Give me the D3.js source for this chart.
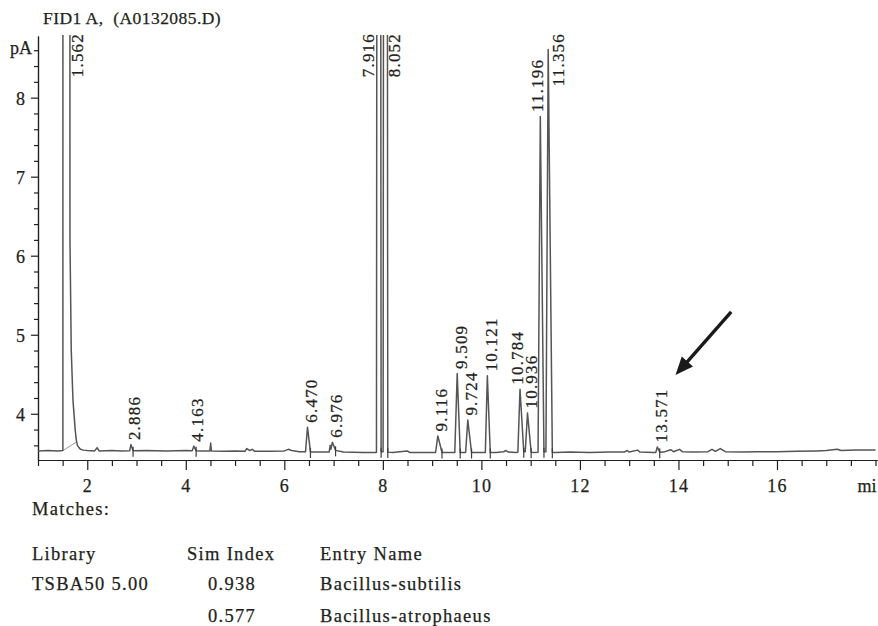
<!DOCTYPE html>
<html>
<head>
<meta charset="utf-8">
<script src="https://cdn.jsdelivr.net/npm/d3@7"></script>
<style>
  html, body { margin: 0; padding: 0; background: #ffffff; }
  svg { display: block; }
  text { font-family: "Liberation Serif", "Times New Roman", serif; fill: #231f20; stroke: #231f20; stroke-width: 0.25px; }
</style>
</head>
<body>
<svg id="chart" width="878" height="626"></svg>
<script>
// ---- FID1 A trace (signal in pA against retention time in min) ----

// Integrated peaks: retention time printed above each peak
const retentionTimes = [1.562, 2.886, 4.163, 6.470, 6.976, 7.916, 8.052, 9.116, 9.509, 9.724, 10.121, 10.784, 10.936, 11.196, 11.356, 13.571];
// Apex signal (pA); the solvent peak and the 7.9/8.0 pair run far off scale
const peakHeights = [300, 3.61, 3.59, 3.83, 3.64, 40, 40, 3.72, 4.51, 3.92, 4.48, 4.31, 4.01, 7.76, 8.61, 3.58];
const peakStarts = [1.505, 2.86, 4.13, 6.43, 6.945, 7.87, 8.005, 9.07, 9.46, 9.68, 10.08, 10.74, 10.89, 11.15, 11.31, 13.54];
const peakEnds = [1.649, 2.93, 4.21, 6.53, 7.04, 7.965, 8.10, 9.20, 9.57, 9.80, 10.18, 10.86, 11.01, 11.27, 11.44, 13.62];

// Signal between the integrated peaks [min, pA], including the solvent tail
const baselineSignal = [
  [1.0, 3.53], [1.2, 3.535], [1.4, 3.53], [1.505, 3.535],
  [1.649, 6.2], [1.675, 4.8], [1.71, 4.17], [1.756, 3.79], [1.777, 3.67], [1.80, 3.6],
  [1.823, 3.58], [1.86, 3.55], [1.925, 3.54], [2.0, 3.535], [2.15, 3.53], [2.2, 3.57],
  [2.24, 3.53], [2.5, 3.535], [2.7, 3.53], [3.2, 3.535], [3.6, 3.53], [4.0, 3.535],
  [4.3, 3.53], [4.49, 3.53], [4.505, 3.63], [4.52, 3.53], [4.8, 3.525], [5.0, 3.53],
  [5.2, 3.525], [5.24, 3.56], [5.3, 3.535], [5.35, 3.55], [5.4, 3.525], [5.7, 3.525],
  [6.0, 3.53], [6.08, 3.55], [6.15, 3.535], [6.3, 3.52], [6.7, 3.515], [6.91, 3.515],
  [6.93, 3.6], [6.945, 3.55], [7.2, 3.515], [7.6, 3.51], [7.85, 3.51], [7.985, 3.52],
  [8.2, 3.51], [8.49, 3.53], [8.55, 3.51], [8.8, 3.51], [9.0, 3.51], [9.3, 3.51],
  [9.45, 3.51], [9.62, 3.51], [9.85, 3.51], [10.0, 3.51], [10.3, 3.51], [10.45, 3.52],
  [10.5, 3.535], [10.55, 3.515], [10.7, 3.51], [10.875, 3.52], [11.08, 3.51], [11.29, 3.52],
  [11.5, 3.51], [11.8, 3.515], [12.2, 3.51], [12.6, 3.515], [12.9, 3.515], [12.96, 3.535],
  [13.0, 3.515], [13.17, 3.54], [13.22, 3.515], [13.5, 3.51], [13.7, 3.515], [13.84, 3.545],
  [13.9, 3.52], [14.02, 3.55], [14.08, 3.52], [14.3, 3.515], [14.6, 3.52], [14.68, 3.55],
  [14.75, 3.525], [14.85, 3.56], [14.95, 3.52], [15.3, 3.515], [15.6, 3.52], [16.0, 3.52],
  [16.4, 3.525], [16.8, 3.53], [17.0, 3.535], [17.22, 3.55], [17.3, 3.535], [17.6, 3.54],
  [18.0, 3.54]
];

// Integration baseline drawn under the solvent peak
const solventBaseline = [[1.505, 3.535], [1.777, 3.64]];

// Axis ticks
const xTickValues = [2, 4, 6, 8, 10, 12, 14, 16];
const yTickValues = [4, 5, 6, 7, 8];

// Library search results
const tableHeaders = ["Library", "Sim Index", "Entry Name"];
const libraryNames = ["TSBA50 5.00", ""];
const simIndexValues = ["0.938", "0.577"];
const entryNames = ["Bacillus-subtilis", "Bacillus-atrophaeus"];

// Arrow pointing at the 13.571 peak [min, pA]
const arrowTail = [15.07, 5.29];
const arrowTip = [13.94, 4.49];

// ---- layout ----
const svg = d3.select("#chart");
const ink = "#231f20";
const serif = "'Liberation Serif', 'Times New Roman', serif";

const x = d3.scaleLinear().domain([1.0, 18.03]).range([38, 877]);
const y = d3.scaleLinear().domain([3.415, 8.78]).range([460, 36]);

// Title
svg.append("text")
  .attr("x", 43).attr("y", 23.5)
  .style("font-size", "17.5px").style("letter-spacing", "0.45px")
  .attr("xml:space", "preserve")
  .text("FID1 A,  (A0132085.D)");

// ---- axes ----
const xMinor = d3.range(1, 18.01, 0.5).filter(v => !xTickValues.includes(v));
const yMinor = d3.range(3.6, 8.61, 0.2).map(v => +v.toFixed(1)).filter(v => !yTickValues.includes(v));

function styleAxis(g) {
  g.attr("font-family", serif);
  g.selectAll("path, line").attr("stroke", ink).attr("stroke-width", 1.2);
}

svg.append("g").attr("transform", "translate(0,460)")
  .call(d3.axisBottom(x).tickValues(xMinor).tickSize(6).tickSizeOuter(0).tickFormat(""))
  .call(styleAxis);

const xAxis = svg.append("g").attr("transform", "translate(0,460)")
  .call(d3.axisBottom(x).tickValues(xTickValues).tickSize(10).tickSizeOuter(0).tickFormat(d3.format("d")))
  .call(styleAxis);
xAxis.selectAll("text")
  .attr("y", 31.5).attr("dy", null)
  .attr("fill", ink)
  .style("font-family", serif)
  .style("font-size", "18px").style("letter-spacing", "1.2px");

svg.append("g").attr("transform", "translate(38,0)")
  .call(d3.axisLeft(y).tickValues(yMinor).tickSize(4).tickSizeOuter(0).tickFormat(""))
  .call(styleAxis);

const yAxis = svg.append("g").attr("transform", "translate(38,0)")
  .call(d3.axisLeft(y).tickValues(yTickValues).tickSize(7).tickSizeOuter(0).tickFormat(d3.format("d")))
  .call(styleAxis);
yAxis.selectAll("text")
  .attr("x", -13).attr("dy", "0.38em")
  .attr("fill", ink)
  .style("font-family", serif)
  .style("font-size", "18px");

// Unit labels
svg.append("text").attr("x", 32).attr("y", 53.5).attr("text-anchor", "end")
  .style("font-size", "18px").text("pA");
svg.append("text").attr("x", 857.5).attr("y", 491.5)
  .style("font-size", "18px").text("mi");

// ---- trace ----
svg.append("clipPath").attr("id", "plot-clip")
  .append("rect").attr("x", 38).attr("y", 35).attr("width", 842).attr("height", 425);

const baseAt = d3.scaleLinear()
  .domain(baselineSignal.map(d => d[0]))
  .range(baselineSignal.map(d => d[1]));

const peaks = retentionTimes.map((rt, i) => ({
  rt, height: peakHeights[i], start: peakStarts[i], end: peakEnds[i], label: rt.toFixed(3)
}));

const tracePoints = baselineSignal.filter(([t]) => !peaks.some(p => t >= p.start && t <= p.end));
peaks.forEach(p => {
  tracePoints.push([p.start, baseAt(p.start)], [p.rt, p.height], [p.end, baseAt(p.end)]);
});
tracePoints.sort((a, b) => a[0] - b[0]);

const line = d3.line().x(d => x(d[0])).y(d => y(d[1]));
const plot = svg.append("g").attr("clip-path", "url(#plot-clip)");

plot.append("path")
  .datum(solventBaseline)
  .attr("d", line)
  .attr("fill", "none").attr("stroke", "#9a9a9a").attr("stroke-width", 1);

plot.append("path")
  .datum(tracePoints)
  .attr("d", line)
  .attr("fill", "none").attr("stroke", "#555555").attr("stroke-width", 1.5)
  .attr("stroke-linejoin", "round");

// Peak end markers
plot.selectAll("line.marker")
  .data(peaks.slice(1))
  .join("line").attr("class", "marker")
  .attr("x1", p => x(p.end)).attr("x2", p => x(p.end))
  .attr("y1", p => y(baseAt(p.end)) - 4).attr("y2", p => y(baseAt(p.end)) + 6)
  .attr("stroke", "#3c3c3c").attr("stroke-width", 1.2);

// ---- retention-time labels ----
// Horizontal shift for labels set beside crowded or off-scale peaks
const labelNudge = { "1.562": 8.3, "7.916": -14.7, "8.052": 5.2, "10.784": -7, "11.196": -7.2, "11.356": 6.4 };
const capHeight = 11.5;

peaks.forEach(p => {
  const t = svg.append("text")
    .style("font-size", "17px").style("letter-spacing", "1.2px")
    .text(p.label);
  const len = t.node().getComputedTextLength();
  const px = x(p.rt);
  const py = y(p.height);
  const bx = px - 2 + (labelNudge[p.label] || 0) + capHeight;
  if (py - 4.5 - len < 31) {
    t.attr("text-anchor", "end").attr("transform", `translate(${bx},33) rotate(-90)`);
  } else {
    t.attr("text-anchor", "start").attr("transform", `translate(${bx},${py - 4.5}) rotate(-90)`);
  }
});

// ---- arrow ----
{
  const x0 = x(arrowTail[0]), y0 = y(arrowTail[1]);
  const x1 = x(arrowTip[0]), y1 = y(arrowTip[1]);
  const ang = Math.atan2(y1 - y0, x1 - x0);
  const headLen = 18, headHalf = 7.5;
  const bx = x1 - headLen * Math.cos(ang), by = y1 - headLen * Math.sin(ang);
  svg.append("line")
    .attr("x1", x0).attr("y1", y0).attr("x2", bx + 2 * Math.cos(ang)).attr("y2", by + 2 * Math.sin(ang))
    .attr("stroke", "#1a1a1a").attr("stroke-width", 3.4);
  svg.append("path")
    .attr("d", d3.line()([
      [x1, y1],
      [bx + headHalf * Math.sin(ang), by - headHalf * Math.cos(ang)],
      [bx - headHalf * Math.sin(ang), by + headHalf * Math.cos(ang)]
    ]) + "Z")
    .attr("fill", "#1a1a1a");
}

// ---- library match table ----
const tableX = [32, 187, 320];
const tableFont = t => t.style("font-size", "18.5px").style("letter-spacing", "1.3px");

svg.append("text").attr("x", 32).attr("y", 515).call(tableFont).text("Matches:");

tableHeaders.forEach((h, i) => {
  svg.append("text").attr("x", tableX[i]).attr("y", 559.5).call(tableFont).text(h);
});

const rowY = [590, 622];
libraryNames.forEach((name, r) => {
  if (name) svg.append("text").attr("x", tableX[0]).attr("y", rowY[r]).call(tableFont).text(name);
  svg.append("text").attr("x", 208).attr("y", rowY[r]).call(tableFont).text(simIndexValues[r]);
  svg.append("text").attr("x", tableX[2]).attr("y", rowY[r]).call(tableFont).text(entryNames[r]);
});
</script>
</body>
</html>
